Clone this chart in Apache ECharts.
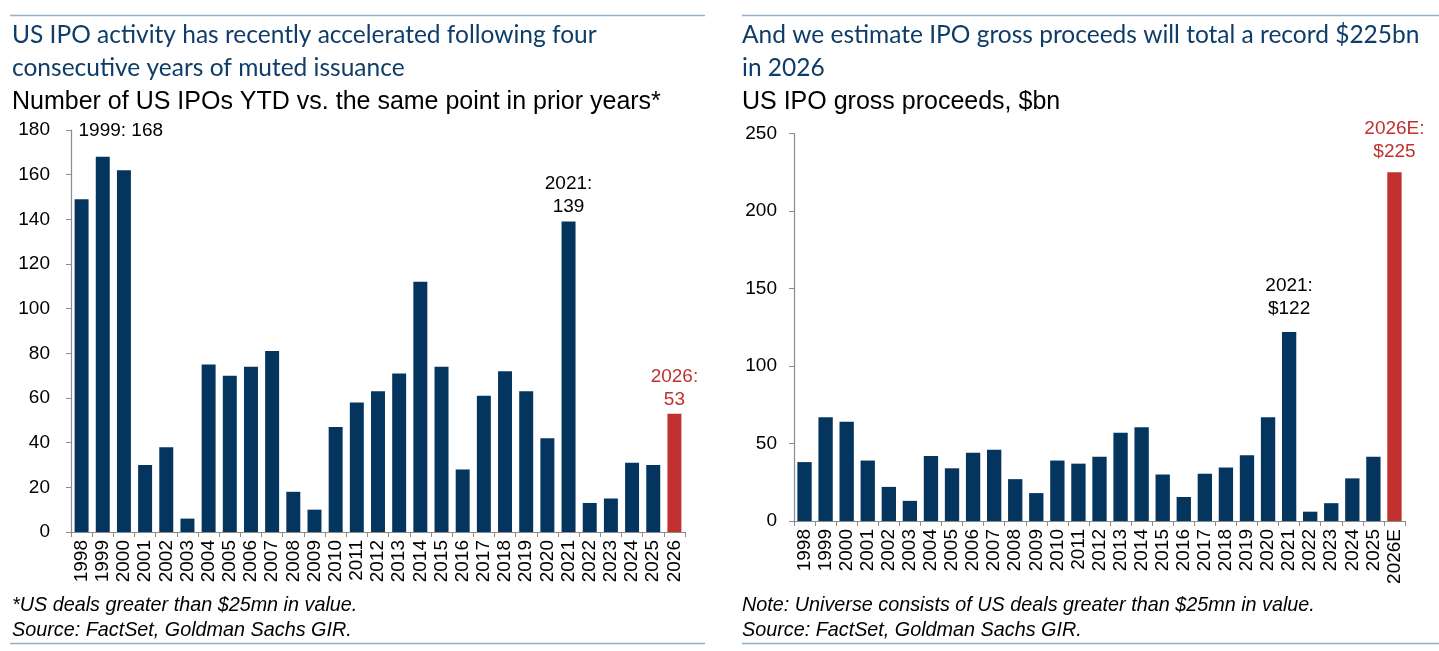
<!DOCTYPE html>
<html>
<head>
<meta charset="utf-8">
<title>US IPO activity</title>
<script src="https://cdn.jsdelivr.net/npm/echarts@6/dist/echarts.min.js"></script>
<style>
    html, body { margin: 0; padding: 0; background: #fff; }
    #chart { width: 1439px; height: 651px; }
</style>
</head>
<body>
<div id="chart"></div>
<script>
    // categories
    var years = ['1998', '1999', '2000', '2001', '2002', '2003', '2004', '2005', '2006', '2007',
        '2008', '2009', '2010', '2011', '2012', '2013', '2014', '2015', '2016', '2017',
        '2018', '2019', '2020', '2021', '2022', '2023', '2024', '2025'];
    var countCats = years.concat(['2026']);
    var proceedsCats = years.concat(['2026E']);

    // number of US IPOs YTD
    var ipoCount = [149, 168, 162, 30, 38, 6, 75, 70, 74, 81,
        18, 10, 47, 58, 63, 71, 112, 74, 28, 61,
        72, 63, 42, 139, 13, 15, 31, 30, 53];

    // US IPO gross proceeds, $bn
    var ipoProceeds = [38, 67, 64, 39, 22, 13, 42, 34, 44, 46,
        27, 18, 39, 37, 41.5, 57, 60.5, 30, 15.5, 30.5,
        34.5, 42.5, 67, 122, 6, 11.5, 27.5, 41.5, 225];

    // y axis ticks
    var countTicks = [0, 20, 40, 60, 80, 100, 120, 140, 160, 180];
    var proceedsTicks = [0, 50, 100, 150, 200, 250];

    // annotated bars
    var countNotes = ['1999', '2021', '2026'];
    var proceedsNotes = ['2021', '2026E'];

    var navy = '#04355f',
        red = '#c0312f',
        axisGrey = '#8c8c8c',
        titleBlue = '#0f3d69',
        ruleBlue = '#93afd0',
        sans = "'Liberation Sans', Arial, sans-serif",
        titleFont = "Lato, 'Open Sans', sans-serif";

    // label placement per annotated bar
    var noteStyle = {
        '1999': {sep: ' ', prefix: '', distance: 15, offset: [18, 0]},
        '2021': {sep: '\n', prefix: '', distance: 3, offset: [0, 0]},
        '2026': {sep: '\n', prefix: '', distance: 2, offset: [0, 0]}
    };
    var noteStyleRight = {
        '2021': {sep: '\n', prefix: '$', distance: 12, offset: [0, 0]},
        '2026E': {sep: '\n', prefix: '$', distance: 9, offset: [0, 0]}
    };

    function barData(cats, vals, notes, styles) {
        return vals.map(function (v, i) {
            var last = i === vals.length - 1;
            var item = {value: v, itemStyle: {color: last ? red : navy}};
            if (notes.indexOf(cats[i]) >= 0) {
                var s = styles[cats[i]];
                item.label = {
                    show: true,
                    position: 'top',
                    distance: s.distance,
                    offset: s.offset,
                    color: last ? red : '#000',
                    fontFamily: sans,
                    fontSize: 19,
                    lineHeight: 23,
                    formatter: function (p) {
                        return p.name + ':' + s.sep + s.prefix + Math.round(p.value);
                    }
                };
            }
            return item;
        });
    }

    function catAxis(gridIndex, cats) {
        return {
            type: 'category',
            gridIndex: gridIndex,
            data: cats,
            axisLine: {lineStyle: {color: axisGrey, width: 1.2}},
            axisTick: {show: true, length: 5, lineStyle: {color: axisGrey}},
            axisLabel: {
                rotate: 90, interval: 0, margin: 8,
                color: '#000', fontFamily: sans, fontSize: 19
            }
        };
    }

    function valAxis(gridIndex, ticks, margin) {
        return {
            type: 'value',
            gridIndex: gridIndex,
            min: ticks[0],
            max: ticks[ticks.length - 1],
            interval: ticks[1] - ticks[0],
            splitLine: {show: false},
            axisLine: {show: true, lineStyle: {color: axisGrey, width: 1.2}},
            axisTick: {show: true, length: 5, lineStyle: {color: axisGrey}},
            axisLabel: {margin: margin, color: '#000', fontFamily: sans, fontSize: 19}
        };
    }

    function txt(x, y, text, font, fill) {
        return {
            type: 'text', x: x, y: y, silent: true,
            style: {text: text, font: font, fill: fill, verticalAlign: 'middle'}
        };
    }

    function rule(x1, x2, y) {
        return {
            type: 'line', silent: true,
            shape: {x1: x1, y1: y, x2: x2, y2: y},
            style: {stroke: ruleBlue, lineWidth: 1.5}
        };
    }

    var chart = echarts.init(document.getElementById('chart'), null, {renderer: 'canvas'});

    var titleSize = '24.5px ',
        subSize = '25px ',
        noteSize = 'italic 19.8px ';

    var option = {
        animation: false,
        backgroundColor: '#fff',
        grid: [
            {left: 71, top: 130, width: 614, height: 402},
            {left: 794, top: 133.5, width: 611, height: 387.5}
        ],
        xAxis: [catAxis(0, countCats), catAxis(1, proceedsCats)],
        yAxis: [valAxis(0, countTicks, 21), valAxis(1, proceedsTicks, 17)],
        series: [
            {
                type: 'bar',
                xAxisIndex: 0,
                yAxisIndex: 0,
                barCategoryGap: '34%',
                data: barData(countCats, ipoCount, countNotes, noteStyle)
            },
            {
                type: 'bar',
                xAxisIndex: 1,
                yAxisIndex: 1,
                barCategoryGap: '32%',
                data: barData(proceedsCats, ipoProceeds, proceedsNotes, noteStyleRight)
            }
        ],
        graphic: [
            rule(10, 705, 15.5),
            rule(742, 1439, 15.5),
            rule(10, 705, 643.5),
            rule(742, 1439, 643.5),
            txt(12, 35, 'US IPO activity has recently accelerated following four', titleSize + titleFont, titleBlue),
            txt(12, 68, 'consecutive years of muted issuance', titleSize + titleFont, titleBlue),
            txt(12, 102, 'Number of US IPOs YTD vs. the same point in prior years*', subSize + sans, '#000'),
            txt(742, 35, 'And we estimate IPO gross proceeds will total a record $225bn', titleSize + titleFont, titleBlue),
            txt(742, 68, 'in 2026', titleSize + titleFont, titleBlue),
            txt(742, 102, 'US IPO gross proceeds, $bn', subSize + sans, '#000'),
            txt(12, 605, '*US deals greater than $25mn in value.', noteSize + sans, '#000'),
            txt(12, 630, 'Source: FactSet, Goldman Sachs GIR.', noteSize + sans, '#000'),
            txt(742, 605, 'Note: Universe consists of US deals greater than $25mn in value.', noteSize + sans, '#000'),
            txt(742, 630, 'Source: FactSet, Goldman Sachs GIR.', noteSize + sans, '#000')
        ]
    };

    chart.setOption(option);
    window.addEventListener('resize', function () {
        chart.resize();
    });
</script>
</body>
</html>
